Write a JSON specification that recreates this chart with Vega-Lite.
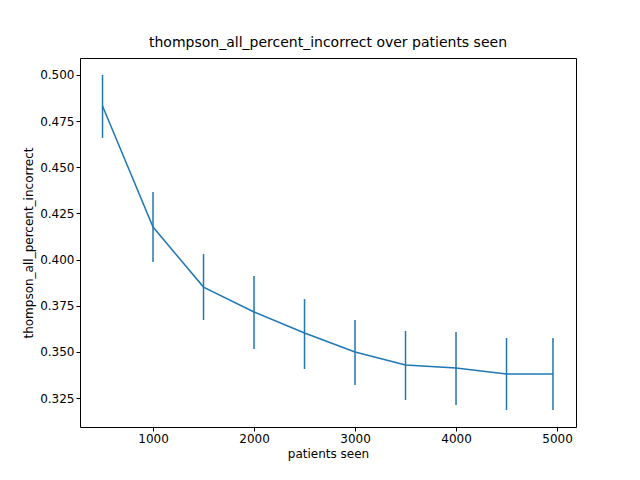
{
"$schema":"https://vega.github.io/schema/vega-lite/v6.json",
"autosize":{"type":"none"},
"width":496,"height":369,
"padding":{"left":80,"top":58,"right":64,"bottom":53},
"title":{"text":"thompson_all_percent_incorrect over patients seen","font":"DejaVu Sans","fontSize":14,"fontWeight":"normal","color":"#000","offset":8},
"config":{"view":{"stroke":"#000","strokeWidth":1},"axis":{"labelFont":"DejaVu Sans","titleFont":"DejaVu Sans","labelFontSize":12,"titleFontSize":12,"titleFontWeight":"normal","labelColor":"#000","titleColor":"#000","grid":false,"domain":false,"tickColor":"#000","tickSize":4}},
"data":{"values":[
{"x":500,"y":0.4832,"lo":0.4659,"hi":0.5},
{"x":1000,"y":0.4176,"lo":0.3987,"hi":0.4366},
{"x":1500,"y":0.3851,"lo":0.3673,"hi":0.403},
{"x":2000,"y":0.3716,"lo":0.3516,"hi":0.3911},
{"x":2500,"y":0.3602,"lo":0.3407,"hi":0.3786},
{"x":3000,"y":0.3499,"lo":0.332,"hi":0.3673},
{"x":3500,"y":0.3429,"lo":0.3239,"hi":0.3613},
{"x":4000,"y":0.3413,"lo":0.3212,"hi":0.3608},
{"x":4500,"y":0.338,"lo":0.3185,"hi":0.3575},
{"x":4960,"y":0.338,"lo":0.3185,"hi":0.3575}
]},
"layer":[
{"mark":{"type":"line","color":"#1f77b4","strokeWidth":1.5},
"encoding":{"x":{"field":"x","type":"quantitative","scale":{"domain":[277,5188],"nice":false,"zero":false},"axis":{"values":[1000,2000,3000,4000,5000],"format":"d","title":"patients seen"}},
"y":{"field":"y","type":"quantitative","scale":{"domain":[0.3093,0.5092],"nice":false,"zero":false},"axis":{"values":[0.325,0.35,0.375,0.4,0.425,0.45,0.475,0.5],"format":".3f","title":"thompson_all_percent_incorrect"}}}},
{"mark":{"type":"rule","color":"#1f77b4","strokeWidth":1.5},
"encoding":{"x":{"field":"x","type":"quantitative"},"y":{"field":"lo","type":"quantitative"},"y2":{"field":"hi"}}}
]
}
